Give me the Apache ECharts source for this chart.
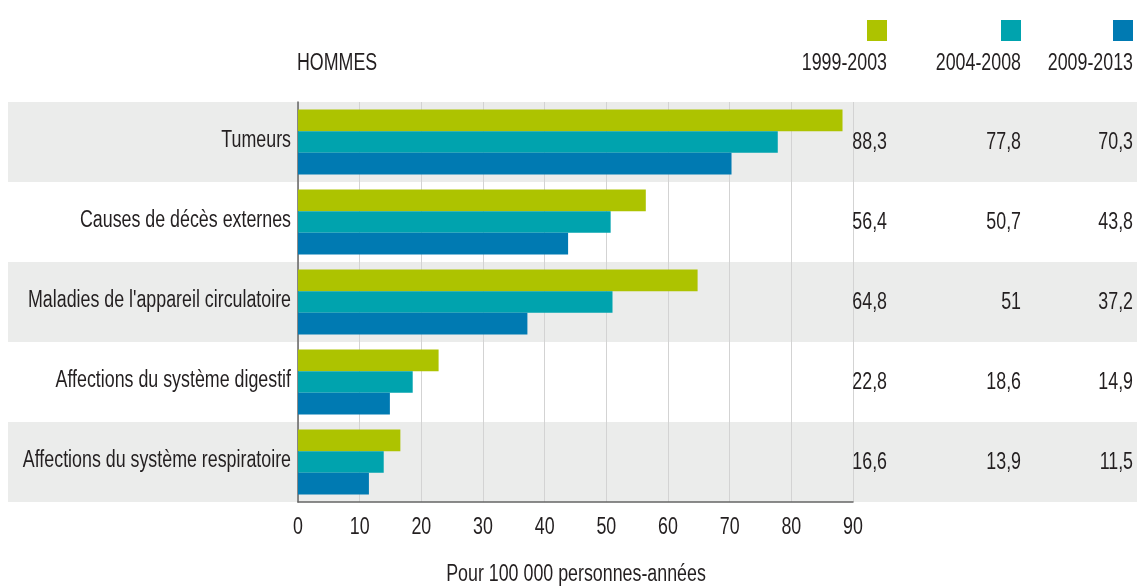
<!DOCTYPE html>
<html>
<head>
<meta charset="utf-8">
<script src="https://cdn.jsdelivr.net/npm/echarts@6/dist/echarts.min.js"></script>
<style>
  html, body { margin: 0; padding: 0; background: #fff; }
  #chart { width: 1138px; height: 587px; }
</style>
</head>
<body>
<div id="chart"></div>
<script>
// Causes of death, men, rate per 100 000 person-years
const categories = [
  'Tumeurs',
  'Causes de décès externes',
  "Maladies de l'appareil circulatoire",
  'Affections du système digestif',
  'Affections du système respiratoire'
];
const periods = ['1999-2003', '2004-2008', '2009-2013'];
const values1999 = [88.3, 56.4, 64.8, 22.8, 16.6];
const values2004 = [77.8, 50.7, 51.0, 18.6, 13.9];
const values2009 = [70.3, 43.8, 37.2, 14.9, 11.5];
const xTicks = [0, 10, 20, 30, 40, 50, 60, 70, 80, 90];

const colors = ['#adc300', '#00a3ae', '#007ab2'];
const TEXT = '#231f20';
// tall, narrow lettering: regular sans squeezed horizontally
const FONT = '23px "Liberation Sans", Arial, sans-serif';
const SQUEEZE = 0.775;

const seriesValues = [values1999, values2004, values2009];
const fmt = v => String(v).replace('.', ',');

// right edges of the value columns and legend entries
const columnRight = [887, 1021, 1133];

function label(x, y, text, align) {
  return {
    type: 'text',
    x: x,
    y: y,
    scaleX: SQUEEZE,
    silent: true,
    style: {
      x: 0, y: 0,
      text: text,
      align: align,
      verticalAlign: 'middle',
      fill: TEXT,
      font: FONT
    }
  };
}

const chart = echarts.init(document.getElementById('chart'), null, { renderer: 'canvas' });

const barSeries = periods.map((p, i) => ({
  name: p,
  type: 'bar',
  data: seriesValues[i],
  itemStyle: { color: colors[i] },
  barGap: '0%',
  barCategoryGap: '19%',
  z: 3
}));

// alternating grey row bands, full page width
const bandSeries = {
  type: 'custom',
  name: 'bands',
  silent: true,
  clip: false,
  z: -1,
  data: categories.map((c, i) => [0, i]).filter(d => d[1] % 2 === 0),
  encode: { x: 0, y: 1 },
  renderItem: function (params, api) {
    const center = api.coord([0, api.value(1)]);
    const h = api.size([0, 1])[1];
    return {
      type: 'rect',
      shape: { x: 8, y: center[1] - h / 2, width: 1129, height: h },
      style: { fill: '#ebeceb' }
    };
  }
};

// category names left of the axis
const categoryLabelSeries = {
  type: 'custom',
  name: 'categoryLabels',
  silent: true,
  clip: false,
  z: 4,
  data: categories.map((c, i) => [0, i]),
  encode: { x: 0, y: 1 },
  renderItem: function (params, api) {
    const p = api.coord([0, api.value(1)]);
    return label(p[0] - 7, p[1] - 1, categories[api.value(1)], 'right');
  }
};

// value tick labels under the axis
const tickLabelSeries = {
  type: 'custom',
  name: 'tickLabels',
  silent: true,
  clip: false,
  z: 4,
  data: xTicks.map(v => [v, categories.length - 1]),
  encode: { x: 0, y: 1 },
  renderItem: function (params, api) {
    const p = api.coord([api.value(0), api.value(1)]);
    const bottom = p[1] + api.size([0, 1])[1] / 2;
    return label(p[0], bottom + 26, String(api.value(0)), 'center');
  }
};

// value table to the right of the plot
const tableSeries = {
  type: 'custom',
  name: 'table',
  silent: true,
  clip: false,
  z: 4,
  data: categories.map((c, i) => [0, i, values1999[i], values2004[i], values2009[i]]),
  encode: { x: 0, y: 1 },
  renderItem: function (params, api) {
    const center = api.coord([0, api.value(1)]);
    const children = [2, 3, 4].map((d, k) =>
      label(columnRight[k], center[1] + 1, fmt(api.value(d)), 'right'));
    return { type: 'group', children: children };
  }
};

// legend squares above the period labels, section title, axis title
const graphics = [];
periods.forEach((p, i) => {
  graphics.push({
    type: 'rect',
    x: columnRight[i] - 20,
    y: 20,
    shape: { width: 20, height: 21 },
    style: { fill: colors[i] }
  });
  graphics.push(label(columnRight[i], 64, p, 'right'));
});
graphics.push(label(297, 64, 'HOMMES', 'left'));
graphics.push(label(576, 575, 'Pour 100 000 personnes-années', 'center'));

chart.setOption({
  animation: false,
  grid: { left: 298, right: 285, top: 102, bottom: 85, containLabel: false },
  xAxis: {
    type: 'value',
    min: xTicks[0],
    max: xTicks[xTicks.length - 1],
    interval: 10,
    axisLine: { show: true, lineStyle: { color: '#666', width: 1.5 } },
    axisTick: { show: false },
    axisLabel: { show: false },
    splitLine: { show: true, lineStyle: { color: '#d3d3d3', width: 1 } }
  },
  yAxis: {
    type: 'category',
    data: categories,
    inverse: true,
    axisLine: { show: true, lineStyle: { color: '#666', width: 1.5 } },
    axisTick: { show: false },
    axisLabel: { show: false },
    splitLine: { show: false }
  },
  graphic: graphics,
  series: [bandSeries].concat(barSeries, [categoryLabelSeries, tickLabelSeries, tableSeries])
});
</script>
</body>
</html>
